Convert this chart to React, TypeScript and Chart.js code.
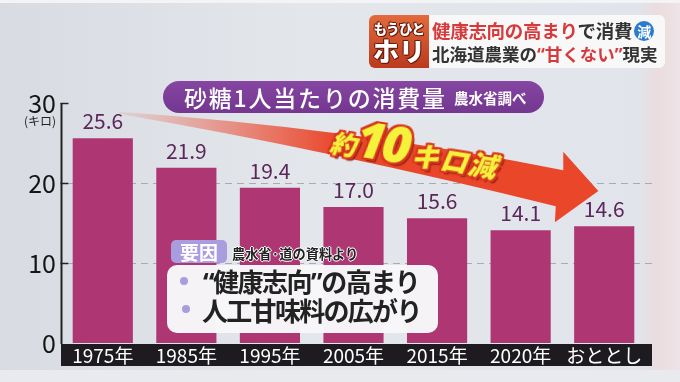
import React, { useEffect, useRef } from "react";
import { Chart, registerables } from "chart.js";

Chart.register(...registerables);

const categories = ["1975年", "1985年", "1995年", "2005年", "2015年", "2020年", "おととし"];
const consumption = [25.6, 21.9, 19.4, 17.0, 15.6, 14.1, 14.6];
const yTickValues = [0, 10, 20, 30];
const gridValues = [10, 20];
const axisTickValues = [10, 20, 30];

const FONT = '"Noto Sans CJK JP", "Noto Sans", sans-serif';

// arrow outline in (category index, value) units
const arrowUpper = [
  [0.18, 28.9],
  [2.96, 26.9],
  [5.51, 21.6],
];
const arrowHead = [
  [5.51, 23.9],
  [5.93, 19.0],
  [5.41, 15.1],
  [5.42, 17.1],
];
const arrowLower = [
  [2.72, 24.1],
  [0.22, 28.6],
];

const decorPlugin = {
  id: "decor",
  beforeDraw(chart: any) {
    const { ctx, chartArea: a, scales } = chart;
    const y = scales.y;
    ctx.save();
    ctx.strokeStyle = "rgba(160,165,175,0.9)";
    ctx.lineWidth = 1;
    ctx.setLineDash([7, 5]);
    gridValues.forEach((v) => {
      const py = Math.round(y.getPixelForValue(v)) + 0.5;
      ctx.beginPath();
      ctx.moveTo(a.left + 8, py);
      ctx.lineTo(a.right + 6, py);
      ctx.stroke();
    });
    ctx.setLineDash([]);
    ctx.fillStyle = "#1d1b1f";
    ctx.fillRect(a.left, a.bottom + 1, a.right + 6 - a.left, 22);
    ctx.restore();
  },
  afterDatasetsDraw(chart: any) {
    const { ctx, chartArea: a, scales } = chart;
    const x = scales.x;
    const y = scales.y;
    ctx.save();
    // axis line
    const ax = Math.round(a.left) + 0.5;
    ctx.strokeStyle = "#222";
    ctx.lineWidth = 2;
    ctx.beginPath();
    ctx.moveTo(ax, y.getPixelForValue(30));
    ctx.lineTo(ax, a.bottom + 1);
    ctx.stroke();
    ctx.lineWidth = 1.5;
    axisTickValues.forEach((v) => {
      const py = Math.round(y.getPixelForValue(v)) + 0.5;
      ctx.beginPath();
      ctx.moveTo(ax - 1, py);
      ctx.lineTo(ax + 7, py);
      ctx.stroke();
    });
    // value labels
    const meta = chart.getDatasetMeta(0);
    ctx.fillStyle = "#5b2659";
    ctx.font = `21px ${FONT}`;
    ctx.textAlign = "center";
    ctx.textBaseline = "alphabetic";
    meta.data.forEach((bar: any, i: number) => {
      ctx.fillText(consumption[i].toFixed(1), bar.x, bar.y - 9);
    });
    // arrow
    const P = (p: number[]) => [x.getPixelForValue(p[0]), y.getPixelForValue(p[1])];
    const s = P(arrowUpper[0]);
    const c1 = P(arrowUpper[1]);
    const n1 = P(arrowUpper[2]);
    const h = arrowHead.map(P);
    const c2 = P(arrowLower[0]);
    const e = P(arrowLower[1]);
    const g = ctx.createLinearGradient(s[0], 0, s[0] + 220, 0);
    g.addColorStop(0, "rgba(236,90,70,0.1)");
    g.addColorStop(1, "rgba(233,70,42,1)");
    ctx.fillStyle = g;
    ctx.beginPath();
    ctx.moveTo(s[0], s[1]);
    ctx.quadraticCurveTo(c1[0], c1[1], n1[0], n1[1]);
    h.forEach((p) => ctx.lineTo(p[0], p[1]));
    ctx.quadraticCurveTo(c2[0], c2[1], e[0], e[1]);
    ctx.closePath();
    ctx.fill();
    ctx.restore();
  },
};

const redOutline = [
  "2px 0 0 #d9361f",
  "-2px 0 0 #d9361f",
  "0 2px 0 #d9361f",
  "0 -2px 0 #d9361f",
  "2px 2px 0 #d9361f",
  "-2px -2px 0 #d9361f",
  "2px -2px 0 #d9361f",
  "-2px 2px 0 #d9361f",
  "3px 3px 1px #8a1e10",
].join(",");

const darkOutline = [
  "1px 0 0 #6a1a0c",
  "-1px 0 0 #6a1a0c",
  "0 1px 0 #6a1a0c",
  "0 -1px 0 #6a1a0c",
  "1px 1px 0 #6a1a0c",
  "-1px -1px 0 #6a1a0c",
].join(",");

const whiteOutline = [
  "1px 0 0 #fff",
  "-1px 0 0 #fff",
  "0 1px 0 #fff",
  "0 -1px 0 #fff",
].join(",");

export default function App() {
  const canvasRef = useRef<HTMLCanvasElement | null>(null);

  useEffect(() => {
    const canvas = canvasRef.current;
    if (!canvas) return;
    const chart = new Chart(canvas, {
      type: "bar",
      data: {
        labels: categories,
        datasets: [
          {
            data: consumption,
            backgroundColor: "#ae3773",
            borderWidth: 0,
            barPercentage: 0.72,
            categoryPercentage: 1,
          },
        ],
      },
      options: {
        responsive: false,
        animation: false,
        devicePixelRatio: 1,
        layout: { padding: { top: 103, right: 34, left: 0, bottom: 0 } },
        plugins: { legend: { display: false }, tooltip: { enabled: false } },
        scales: {
          x: {
            grid: { display: false, drawTicks: false },
            border: { display: false },
            ticks: {
              color: "#ffffff",
              font: { family: FONT, size: 19 },
              padding: 1,
              maxRotation: 0,
              autoSkip: false,
            },
            afterFit: (s: any) => {
              s.height = 39;
            },
          },
          y: {
            min: 0,
            max: 30,
            grid: { display: false, drawTicks: false },
            border: { display: false },
            afterBuildTicks: (s: any) => {
              s.ticks = yTickValues.map((v) => ({ value: v }));
            },
            ticks: {
              color: "#151515",
              font: { family: FONT, size: 25 },
              padding: 5,
            },
            afterFit: (s: any) => {
              s.width = 61;
            },
          },
        },
      },
      plugins: [decorPlugin],
    } as any);
    return () => chart.destroy();
  }, []);

  return (
    <div
      style={{
        position: "fixed",
        left: 0,
        top: 0,
        width: 680,
        height: 382,
        overflow: "hidden",
        fontFamily: FONT,
        background:
          "linear-gradient(90deg, #d8dce2 0%, #e3e6eb 45%, #e1e4ea 94%, #eadcdf 96.5%, #eee3e6 100%)",
      }}
    >
      <div style={{ position: "absolute", left: 0, top: 0, width: 680, height: 3, background: "#f4f4f6" }} />
      <div style={{ position: "absolute", left: 0, top: 370, width: 680, height: 12, background: "#e9eaed" }} />
      <canvas
        ref={canvasRef}
        width={680}
        height={382}
        style={{ position: "absolute", left: 0, top: 0, width: 680, height: 382 }}
      />

      {/* y unit */}
      <div style={{ position: "absolute", left: 24, top: 112, fontSize: 12, color: "#222", whiteSpace: "nowrap" }}>
        (キロ)
      </div>

      {/* header badge */}
      <div
        style={{
          position: "absolute",
          left: 369,
          top: 15,
          width: 60,
          height: 53,
          borderRadius: "6px 0 0 6px",
          background: "linear-gradient(#e26a3c, #bb3a1f)",
          color: "#fff",
          textAlign: "center",
          fontWeight: 900,
        }}
      >
        <div style={{ fontSize: 13.5, lineHeight: "16px", marginTop: 5, letterSpacing: -0.5, textShadow: darkOutline }}>
          もうひと
        </div>
        <div style={{ fontSize: 26, lineHeight: "28px", marginTop: 0, textShadow: darkOutline }}>ホリ</div>
      </div>
      <div
        style={{
          position: "absolute",
          left: 429,
          top: 15,
          width: 236,
          height: 53,
          borderRadius: "0 6px 6px 0",
          background: "#f8f8f9",
          fontWeight: 700,
          whiteSpace: "nowrap",
        }}
      >
        <div style={{ position: "absolute", left: 3, top: 3, fontSize: 18.5, lineHeight: "24px", letterSpacing: -0.3 }}>
          <span style={{ color: "#d83a3c" }}>健康志向の高まり</span>
          <span style={{ color: "#333" }}>で消費</span>
          <span
            style={{
              display: "inline-block",
              width: 20,
              height: 20,
              marginLeft: 2,
              borderRadius: 10,
              background: "#2b7ccc",
              color: "#fff",
              fontSize: 14,
              lineHeight: "20px",
              textAlign: "center",
              verticalAlign: "1px",
            }}
          >
            減
          </span>
        </div>
        <div style={{ position: "absolute", left: 3, top: 27, fontSize: 17.5, lineHeight: "24px", color: "#333" }}>
          北海道農業の
          <span style={{ color: "#d83a3c" }}>
            <span style={{ fontFamily: '"Noto Sans", sans-serif' }}>“</span>甘くない
            <span style={{ fontFamily: '"Noto Sans", sans-serif' }}>”</span>
          </span>
          現実
        </div>
      </div>

      {/* title pill */}
      <div
        style={{
          position: "absolute",
          left: 163,
          top: 81,
          width: 381,
          height: 32,
          borderRadius: 16,
          background: "linear-gradient(#8646a2, #733790)",
          color: "#fff",
          whiteSpace: "nowrap",
        }}
      >
        <span style={{ position: "absolute", left: 21, top: 1, fontSize: 23, lineHeight: "30px", letterSpacing: 1.8, fontWeight: 500 }}>
          砂糖1人当たりの消費量
        </span>
        <span style={{ position: "absolute", left: 291, top: 7, fontSize: 14.5, lineHeight: "20px", fontWeight: 700 }}>
          農水省調べ
        </span>
      </div>

      {/* arrow label */}
      <div
        style={{
          position: "absolute",
          left: 330,
          top: 108,
          whiteSpace: "nowrap",
          transform: "rotate(9deg)",
          transformOrigin: "0 60%",
          color: "#f6f23c",
          fontWeight: 900,
          textShadow: redOutline,
          display: "flex",
          alignItems: "baseline",
          fontStyle: "italic",
        }}
      >
        <span style={{ fontSize: 26, lineHeight: "50px" }}>約</span>
        <span style={{ fontSize: 50, lineHeight: "50px", fontFamily: '"Noto Sans", sans-serif', letterSpacing: -3 }}>10</span>
        <span style={{ fontSize: 28, lineHeight: "50px", marginLeft: 4, letterSpacing: 1 }}>キロ減</span>
      </div>

      {/* reasons */}
      <div
        style={{
          position: "absolute",
          left: 171,
          top: 240,
          width: 56,
          height: 23,
          borderRadius: 5,
          background: "#a99ddf",
          color: "#fff",
          fontSize: 19,
          lineHeight: "23px",
          fontWeight: 700,
          textAlign: "center",
        }}
      >
        要因
      </div>
      <div
        style={{
          position: "absolute",
          left: 232,
          top: 245,
          fontSize: 13.2,
          lineHeight: "18px",
          fontWeight: 700,
          color: "#222",
          whiteSpace: "nowrap",
          textShadow: whiteOutline,
        }}
      >
        農水省·道の資料より
      </div>
      <div
        style={{
          position: "absolute",
          left: 167,
          top: 265,
          width: 271,
          height: 68,
          borderRadius: 10,
          background: "rgba(247,247,249,0.98)",
          color: "#222",
          fontWeight: 700,
          whiteSpace: "nowrap",
        }}
      >
        <span style={{ position: "absolute", left: 13, top: 12, width: 8, height: 8, borderRadius: 4, background: "#a99ddf" }} />
        <span style={{ position: "absolute", left: 15, top: 40, width: 8, height: 8, borderRadius: 4, background: "#a99ddf" }} />
        <div style={{ position: "absolute", left: 36, top: 0, fontSize: 26, lineHeight: "32px", letterSpacing: -1.5 }}>
          <span style={{ fontFamily: '"Noto Sans", sans-serif' }}>“</span>健康志向
          <span style={{ fontFamily: '"Noto Sans", sans-serif' }}>”</span>の高まり
        </div>
        <div style={{ position: "absolute", left: 35, top: 29, fontSize: 26, lineHeight: "32px", letterSpacing: -1.7 }}>
          人工甘味料の広がり
        </div>
      </div>
    </div>
  );
}
